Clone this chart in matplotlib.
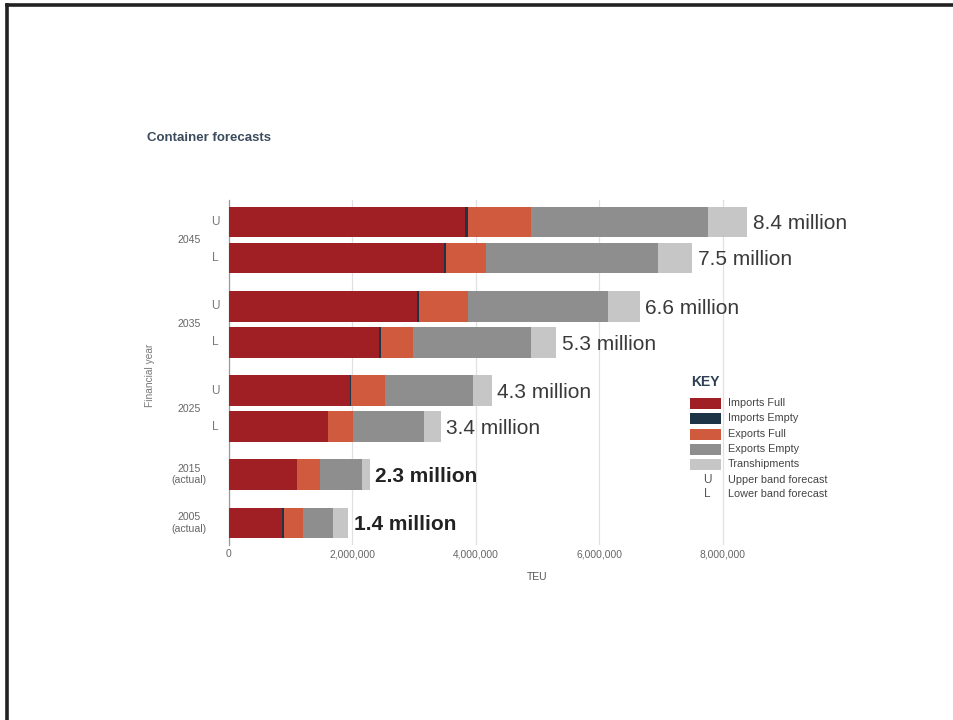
import numpy as np
import matplotlib; matplotlib.use("Agg")
import matplotlib.pyplot as plt
from matplotlib.patches import Rectangle
from matplotlib.lines import Line2D
import matplotlib.transforms as mtransforms

plt.rcParams.update({'font.family': ['Liberation Sans', 'DejaVu Sans']})

# data (TEU, millions), top row first
rows = ['U', 'L', 'U', 'L', 'U', 'L', '', '']
groups = ['2045', '2035', '2025', '2015\n(actual)', '2005\n(actual)']
group_rows = [[0, 1], [2, 3], [4, 5], [6], [7]]
imports_full = [3.82, 3.48, 3.04, 2.43, 1.96, 1.60, 1.10, 0.86]
imports_empty = [0.05, 0.03, 0.04, 0.03, 0.02, 0.01, 0.01, 0.03]
exports_full = [1.02, 0.65, 0.79, 0.52, 0.55, 0.40, 0.36, 0.31]
exports_empty = [2.87, 2.80, 2.27, 1.91, 1.42, 1.15, 0.68, 0.48]
transhipments = [0.64, 0.55, 0.52, 0.41, 0.31, 0.27, 0.13, 0.25]
totals_text = ['8.4 million', '7.5 million', '6.6 million', '5.3 million',
               '4.3 million', '3.4 million', '2.3 million', '1.4 million']
bold_label = [False] * 6 + [True, True]

series = [('Imports Full', imports_full, '#9f1f25'),
          ('Imports Empty', imports_empty, '#1d3446'),
          ('Exports Full', exports_full, '#cf5a3e'),
          ('Exports Empty', exports_empty, '#8f8e8e'),
          ('Transhipments', transhipments, '#c6c6c6')]

# row positions: step 1 inside a group, bigger step between groups
ypos = []
y = 0.0
for gi, g in enumerate(group_rows):
    if gi > 0:
        y += 1.34
    for k in range(len(g)):
        if k > 0:
            y += 1.0
        ypos.append(y)
ypos = np.array(ypos)

fig = plt.figure(figsize=(9.54, 7.2), dpi=100)
ax = fig.add_axes([229/954, 175/720, 617/954, 345/720])

left = np.zeros(len(ypos))
for name, vals, col in series:
    v = np.array(vals) * 1e6
    ax.barh(ypos, v, left=left, height=0.85, color=col, edgecolor='none', zorder=3)
    left += v

for i in range(len(ypos)):
    if bold_label[i]:
        ax.text(left[i] + 0.09e6, ypos[i] + 0.05, totals_text[i], va='center', ha='left',
                fontsize=15, fontweight='bold', color='#222222', zorder=4)
    else:
        ax.text(left[i] + 0.09e6, ypos[i] + 0.05, totals_text[i], va='center', ha='left',
                fontsize=15, color='#3a3a3a', zorder=4)

ax.set_xlim(0, 10e6)
ax.set_ylim(ypos[-1] + 0.61, -0.61)
ax.set_xticks([0, 2e6, 4e6, 6e6, 8e6])
ax.set_xticklabels(['0', '2,000,000', '4,000,000', '6,000,000', '8,000,000'])
ax.tick_params(axis='x', length=0, pad=3, labelsize=7.4, labelcolor='#666666')
ax.set_yticks([])
ax.grid(axis='x', color='#e0e0e0', lw=0.9, zorder=0)
for s in ['top', 'right', 'bottom']:
    ax.spines[s].set_visible(False)
ax.spines['left'].set_color('#9a9a9a')
ax.spines['left'].set_linewidth(0.9)
ax.set_xlabel('TEU', fontsize=7.5, color='#555555', labelpad=9)

# row / group labels
trans = mtransforms.blended_transform_factory(ax.transAxes, ax.transData)
for i, r in enumerate(rows):
    if r:
        ax.text(-14/617, ypos[i], r, transform=trans, ha='center', va='center',
                fontsize=8.5, color='#777777')
for g, idx in zip(groups, group_rows):
    yc = np.mean(ypos[idx])
    ax.text(-40/617, yc, g, transform=trans, ha='center', va='center',
            fontsize=7.6, color='#666666', linespacing=1.15)
fig.text(150/954, 1 - 375/720, 'Financial year', rotation=90, ha='center', va='center',
         fontsize=7.3, color='#777777')

fig.text(147/954, 1 - 138/720, 'Container forecasts', ha='left', va='center',
         fontsize=9.5, fontweight='bold', color='#3b4a5c')

# key
fig.text(691/954, 1 - 382/720, 'KEY', ha='left', va='center', fontsize=10,
         fontweight='bold', color='#2e3f55')
key_y = [403, 418, 434, 449, 464]
for (name, vals, col), yy in zip(series, key_y):
    fig.patches.append(Rectangle((690/954, 1 - (yy + 5.5)/720), 31/954, 11/720,
                                 transform=fig.transFigure, facecolor=col, edgecolor='none'))
    fig.text(728/954, 1 - yy/720, name, ha='left', va='center', fontsize=7.8, color='#444444')
for sym, name, yy in [('U', 'Upper band forecast', 480), ('L', 'Lower band forecast', 494)]:
    fig.text(707/954, 1 - yy/720, sym, ha='center', va='center', fontsize=8.5, color='#555555')
    fig.text(728/954, 1 - yy/720, name, ha='left', va='center', fontsize=7.8, color='#444444')

# page frame (top and left edges)
fig.add_artist(Line2D([7/954, 1], [1 - 5/720, 1 - 5/720], transform=fig.transFigure,
                      color='#222222', lw=2.6))
fig.add_artist(Line2D([7/954, 7/954], [0, 1 - 5/720], transform=fig.transFigure,
                      color='#222222', lw=2.6))

fig.savefig('out.png', dpi=100)
